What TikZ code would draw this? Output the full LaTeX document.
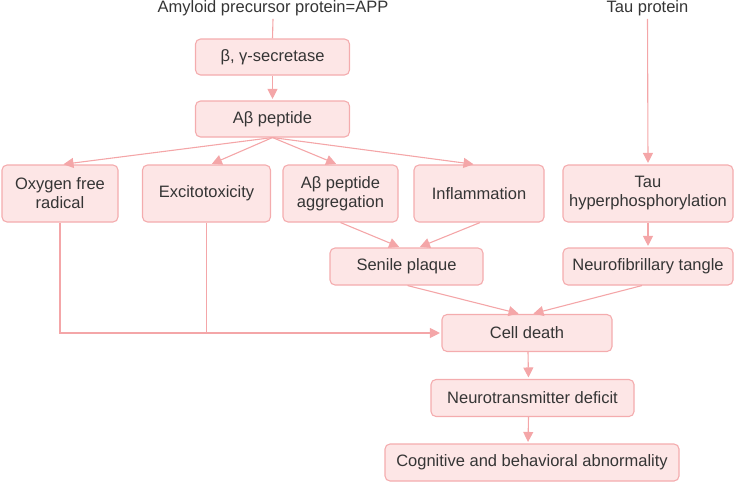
\documentclass[tikz,border=0pt]{standalone}
\usepackage{fontspec}
\setmainfont{Liberation Sans}
\usetikzlibrary{arrows.meta}
\definecolor{boxfill}{HTML}{FDE6E6}
\definecolor{boxline}{HTML}{F4ACAE}
\definecolor{arr}{HTML}{F4A6A8}
\definecolor{txt}{HTML}{353535}
\tikzset{
  box/.style={draw=boxline, fill=boxfill, line width=1.1pt, rounded corners=5pt,
    inner sep=0pt, align=center, text=txt,
    font=\fontsize{16.5}{19}\selectfont},
  lbl/.style={inner sep=0pt, text=txt, font=\fontsize{16.5}{19}\selectfont},
  conn/.style={draw=arr, line width=1.1pt},
  arw/.style={conn, -{Triangle[width=10pt,length=10pt]}, shorten >=1.5pt},
}
\begin{document}
\begin{tikzpicture}[x=1pt,y=-1pt]
\useasboundingbox (0,0) rectangle (735,482);
\node[lbl] (app) at (273,8) {Amyloid precursor protein=APP};
\node[lbl] (taup) at (647.5,8) {Tau protein};
\node[box, minimum width=154pt, minimum height=36pt] (sec) at (272.5,57) {β, γ-secretase};
\node[box, minimum width=154pt, minimum height=36pt] (abp) at (272.5,119) {Aβ peptide};
\node[box, minimum width=116pt, minimum height=57pt] (oxy) at (60,193.5) {Oxygen free\\radical};
\node[box, minimum width=128pt, minimum height=57pt] (exc) at (206.5,193.5) {Excitotoxicity};
\node[box, minimum width=115pt, minimum height=57pt] (agg) at (340.5,193.5) {Aβ peptide\\aggregation};
\node[box, minimum width=130pt, minimum height=57pt] (inf) at (479,193.5) {Inflammation};
\node[box, minimum width=170pt, minimum height=57pt] (tau) at (648,193.5) {Tau\\hyperphosphorylation};
\node[box, minimum width=153pt, minimum height=37pt] (sp) at (406.5,266.5) {Senile plaque};
\node[box, minimum width=170pt, minimum height=37pt] (nft) at (648,266.5) {Neurofibrillary tangle};
\node[box, minimum width=170pt, minimum height=37pt] (cd) at (527,333) {Cell death};
\node[box, minimum width=203pt, minimum height=37pt] (nd) at (532.5,398) {Neurotransmitter deficit};
\node[box, minimum width=294pt, minimum height=37pt] (cog) at (532,462.5) {Cognitive and behavioral abnormality};

\draw[conn] (app.south) ++(0,3) -- (sec.north);
\draw[arw] (sec) -- (abp);
\draw[arw] (abp.south) -- ([xshift=2pt]oxy.north);
\draw[arw] (abp.south) -- ([xshift=4pt]exc.north);
\draw[arw] (abp.south) -- ([xshift=-3pt]agg.north);
\draw[arw] (abp.south) -- ([xshift=-4pt]inf.north);
\draw[arw] ([yshift=-3pt]taup.south) -- (tau.north);
\draw[arw] (tau) -- (nft);
\draw[arw] (agg.south) -- ([xshift=-6pt]sp.north);
\draw[arw] ([xshift=1pt]inf.south) -- ([xshift=12pt]sp.north);
\draw[arw] ([xshift=1pt]sp.south) -- ([xshift=-7pt]cd.north);
\draw[arw] ([xshift=-6pt]nft.south) -- ([xshift=5pt]cd.north);
\draw[arw] (oxy.south) |- (cd.west);
\draw[conn] (exc.south) -- (exc.south |- cd.west);
\draw[arw] ([xshift=1pt]cd.south) -- ([xshift=-4pt]nd.north);
\draw[arw] ([xshift=-4pt]nd.south) -- ([xshift=-4pt]cog.north);
\end{tikzpicture}
\end{document}
